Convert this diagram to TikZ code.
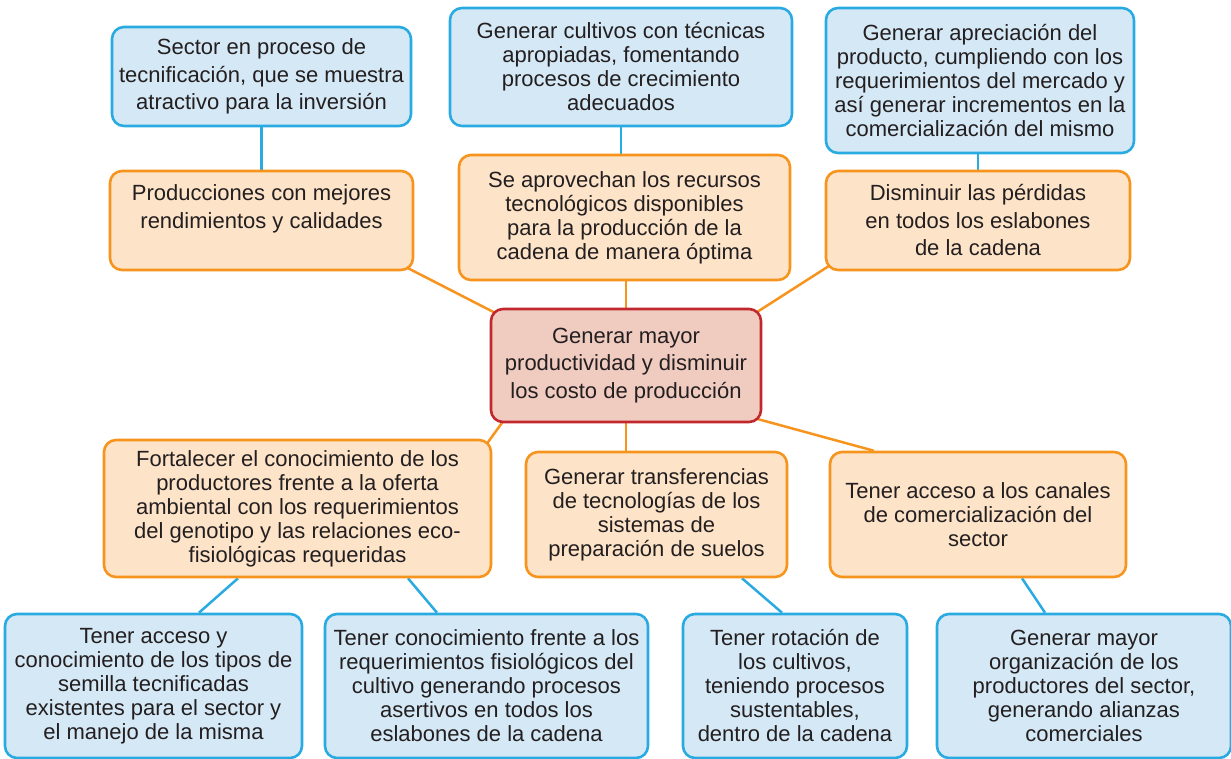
\documentclass[tikz,border=0pt]{standalone}
\usepackage{fontspec}
\setmainfont{Liberation Sans}
\usepackage{tikz}
\usetikzlibrary{backgrounds}

\definecolor{ideaBlue}{HTML}{29ABE2}
\definecolor{ideaFill}{HTML}{D5E8F5}
\definecolor{actOrange}{HTML}{F7941D}
\definecolor{actFill}{HTML}{FDE3C8}
\definecolor{goalRed}{HTML}{C1272D}
\definecolor{goalFill}{HTML}{F0CBC0}
\definecolor{inkGray}{HTML}{231F20}

\begin{document}
\begin{tikzpicture}[
    x=1pt, y=-1pt,
    box/.style={rectangle, rounded corners=12pt, line width=2.6pt, align=center, inner sep=2pt, text=inkGray, font=\fontsize{22}{24}\selectfont},
    idea/.style={box, draw=ideaBlue, fill=ideaFill},
    action/.style={box, draw=actOrange, fill=actFill},
    goal/.style={box, draw=goalRed, fill=goalFill},
    loose/.style={font=\fontsize{22}{27.5}\selectfont},
    dims/.style 2 args={minimum width=#1, minimum height=#2},
    link/.style={line width=2.5pt, draw=#1}
]
\useasboundingbox (0,0) rectangle (1231,759);

% Central goal
\node[goal, loose, dims={270pt}{113pt}] (goal) at (626,365.5) {Generar mayor\\productividad y disminuir\\los costo de producción};

% Upper strategies
\node[action, loose, dims={303pt}{99pt}] (prod) at (261.5,220.5) {Producciones con mejores\\rendimientos y calidades\\\mbox{}};
\node[action, dims={331pt}{125pt}] (recursos) at (624.5,217.5) {Se aprovechan los recursos\\tecnológicos disponibles\\para la producción de la\\cadena de manera óptima};
\node[action, loose, dims={304pt}{99pt}] (perdidas) at (978,220.5) {Disminuir las pérdidas\\en todos los eslabones\\de la cadena};

\node[idea, loose, dims={299pt}{99pt}] (sector) at (261.5,76.5) {Sector en proceso de\\tecnificación, que se muestra\\atractivo para la inversión};
\node[idea, dims={342pt}{118pt}] (cultivos) at (621,67) {Generar cultivos con técnicas\\apropiadas, fomentando\\procesos de crecimiento\\adecuados};
\node[idea, dims={308pt}{145pt}] (aprecia) at (980,80.5) {Generar apreciación del\\producto, cumpliendo con los\\requerimientos del mercado y\\así generar incrementos en la\\comercialización del mismo};

% Lower strategies
\node[action, dims={387pt}{137pt}] (fortalecer) at (297.5,508.5) {Fortalecer el conocimiento de los\\productores frente a la oferta\\ambiental con los requerimientos\\del genotipo y las relaciones eco-\\fisiológicas requeridas};
\node[action, dims={261pt}{125pt}] (transfer) at (656.5,514.5) {Generar transferencias\\de tecnologías de los\\sistemas de\\preparación de suelos};
\node[action, dims={296pt}{125pt}] (canales) at (978,514.5) {Tener acceso a los canales\\de comercialización del\\sector};

\node[idea, dims={297pt}{144pt}] (semilla) at (153.5,686) {Tener acceso y\\conocimiento de los tipos de\\semilla tecnificadas\\existentes para el sector y\\el manejo de la misma};
\node[idea, dims={323pt}{144pt}] (fisio) at (486.5,686) {Tener conocimiento frente a los\\requerimientos fisiológicos del\\cultivo generando procesos\\asertivos en todos los\\eslabones de la cadena};
\node[idea, dims={224pt}{144pt}] (rotacion) at (795,686) {Tener rotación de\\los cultivos,\\teniendo procesos\\sustentables,\\dentro de la cadena};
\node[idea, dims={294pt}{144pt}] (alianzas) at (1084,686) {Generar mayor\\organización de los\\productores del sector,\\generando alianzas\\comerciales};

% Connectors
\begin{scope}[on background layer]
\draw[link=actOrange] ([xshift=-8pt,yshift=4pt]prod.south east) -- ([xshift=9pt,yshift=-7pt]goal.north west);
\draw[link=actOrange] (goal.north) -- (goal.north |- recursos.south);
\draw[link=actOrange] ([xshift=10pt,yshift=9pt]perdidas.south west) -- ([xshift=-11pt,yshift=-8pt]goal.north east);
\draw[link=actOrange] ([xshift=17pt,yshift=7pt]goal.south west) -- ([xshift=-9pt,yshift=-10pt]fortalecer.north east);
\draw[link=actOrange] (goal.south) -- (goal.south |- transfer.north);
\draw[link=actOrange] ([xshift=-11pt,yshift=6pt]goal.south east) -- ([xshift=45pt]canales.north west);

\draw[link=ideaBlue] (sector.south) -- (prod.north);
\draw[link=ideaBlue] (cultivos.south) -- (cultivos.south |- recursos.north);
\draw[link=ideaBlue] (perdidas.north) -- (perdidas.north |- aprecia.south);
\draw[link=ideaBlue] ([xshift=-59.5pt]fortalecer.south) -- ([xshift=45.5pt]semilla.north);
\draw[link=ideaBlue] ([xshift=110.5pt]fortalecer.south) -- ([xshift=-49.5pt]fisio.north);
\draw[link=ideaBlue] ([xshift=85.5pt]transfer.south) -- ([xshift=-13pt]rotacion.north);
\draw[link=ideaBlue] ([xshift=44pt]canales.south) -- ([xshift=-39pt]alianzas.north);
\end{scope}

\end{tikzpicture}
\end{document}
